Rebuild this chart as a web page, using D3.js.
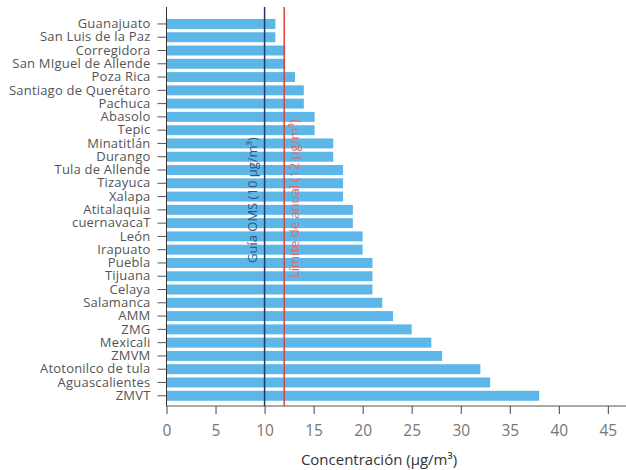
<!DOCTYPE html>
<html><head><meta charset="utf-8">
<script src="https://cdn.jsdelivr.net/npm/d3@7/dist/d3.min.js"></script>
<style>body{margin:0;background:#fff}svg{display:block}</style>
</head><body><svg id="c" width="626" height="470"></svg>
<script>
const categories = ["Guanajuato","San Luis de la Paz","Corregidora","San MIguel de Allende","Poza Rica","Santiago de Querétaro","Pachuca","Abasolo","Tepic","Minatitlán","Durango","Tula de Allende","Tizayuca","Xalapa","Atitalaquia","cuernavacaT","León","Irapuato","Puebla","Tijuana","Celaya","Salamanca","AMM","ZMG","Mexicali","ZMVM","Atotonilco de tula","Aguascalientes","ZMVT"];
const values = [11.1,11.1,12.1,12.1,13.1,14,14,15.1,15.1,17,17,18,18,18,19,19,20,20,21,21,21,22,23.1,25,27,28.1,32,33,38];
const xTicks = [0,5,10,15,20,25,30,35,40,45];
const refLines = [
  {value:10, label:"Guía OMS (10 µg/m³)", color:"#1f3b63", text:"#34557f", side:-1, start:263},
  {value:12, label:"Límite de anual (12 µg/m³)", color:"#e0403a", text:"#e06a6a", side:1, start:278}
];
const font = "'Open Sans', sans-serif";
const svg = d3.select("#c");
const mLeft = 166.5, mRight = 626, mTop = 7, mBottom = 406;
const x = d3.scaleLinear().domain([0, 46.85]).range([mLeft, mRight]);
const y = d3.scaleBand().domain(categories).range([17.3, 402.4]).paddingInner(0.25).paddingOuter(0.125);

svg.append("g").selectAll("rect").data(values).join("rect")
  .attr("x", x(0)).attr("y", (d,i)=>y(categories[i]))
  .attr("width", d=>x(d)-x(0)).attr("height", y.bandwidth())
  .attr("fill", "#5db6e8");

// y axis
const ya = svg.append("g").attr("transform", `translate(${mLeft},0)`)
  .call(d3.axisLeft(y).tickSize(9).tickPadding(7).tickSizeOuter(0));
ya.select(".domain").attr("stroke","#333").attr("d", `M0,${mTop}V${mBottom}`);
ya.selectAll(".tick line").attr("stroke","#555");
ya.selectAll(".tick text").attr("fill","#555").style("font-family",font).style("font-size","13px").style("letter-spacing","0.2px");

// x axis
const xa = svg.append("g").attr("transform", `translate(0,${mBottom})`)
  .call(d3.axisBottom(x).tickValues(xTicks).tickSize(8).tickPadding(11).tickSizeOuter(0));
xa.select(".domain").attr("stroke","#555").attr("d", `M${mLeft},0H${mRight}`);
xa.selectAll(".tick line").attr("stroke","#444");
xa.selectAll(".tick text").attr("fill","#777").style("font-family",font).style("font-size","15.5px");

svg.append("text").attr("x", 379).attr("y", 465).attr("text-anchor","middle")
  .attr("fill","#333").style("font-family",font).style("font-size","15px")
  .text("Concentración (µg/m³)");

// reference lines
refLines.forEach(r=>{
  const xp = x(r.value);
  svg.append("line").attr("x1",xp).attr("x2",xp).attr("y1",mTop).attr("y2",mBottom)
    .attr("stroke", r.color).attr("stroke-width",1.5);
  const tx = xp + r.side*11;
  svg.append("text").attr("transform", `translate(${tx},${r.start}) rotate(-90)`)
    .attr("dominant-baseline","middle").attr("fill", r.text)
    .style("font-family",font).style("font-size","13px").text(r.label);
});
</script></body></html>
